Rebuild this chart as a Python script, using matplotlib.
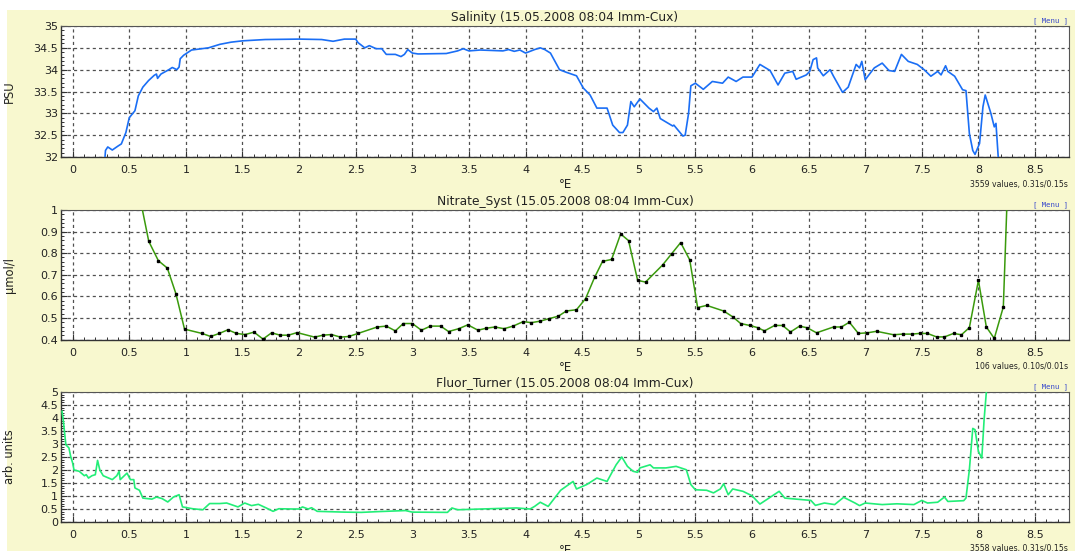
import matplotlib
matplotlib.use("Agg")
import matplotlib.pyplot as plt
from matplotlib.patches import Rectangle
from matplotlib.ticker import MultipleLocator, AutoMinorLocator, FuncFormatter

# ---------------- data ----------------
sal_lon = [0.28, 0.29, 0.31, 0.35, 0.40, 0.43, 0.47, 0.50, 0.55, 0.58, 0.62, 0.67, 0.72, 0.74, 0.75,
           0.78, 0.85, 0.88, 0.92, 0.94, 0.95, 0.98, 1.05, 1.20, 1.30, 1.40, 1.50, 1.70, 2.00, 2.20,
           2.30, 2.40, 2.50, 2.52, 2.58, 2.62, 2.68, 2.73, 2.77, 2.85, 2.90, 2.93, 2.96, 3.00, 3.05,
           3.30, 3.40, 3.45, 3.50, 3.60, 3.80, 3.85, 3.90, 3.95, 4.00, 4.08, 4.13, 4.17, 4.22, 4.30,
           4.36, 4.45, 4.51, 4.57, 4.63, 4.72, 4.77, 4.83, 4.86, 4.90, 4.93, 4.96, 5.01, 5.09, 5.13,
           5.16, 5.19, 5.30, 5.31, 5.39, 5.41, 5.44, 5.46, 5.50, 5.57, 5.65, 5.74, 5.79, 5.86, 5.92,
           6.00, 6.07, 6.16, 6.23, 6.29, 6.36, 6.39, 6.48, 6.51, 6.54, 6.57, 6.58, 6.63, 6.69, 6.72,
           6.80, 6.85, 6.92, 6.95, 6.97, 7.00, 7.08, 7.15, 7.21, 7.26, 7.32, 7.38, 7.46, 7.52, 7.58,
           7.64, 7.67, 7.71, 7.73, 7.79, 7.86, 7.89, 7.92, 7.95, 7.97, 8.01, 8.04, 8.06, 8.11, 8.14,
           8.155, 8.18]
sal_val = [31.80, 32.15, 32.23, 32.16, 32.25, 32.30, 32.56, 32.90, 33.06, 33.40, 33.60, 33.75, 33.87, 33.90, 33.80,
           33.90, 34.00, 34.05, 34.00, 34.06, 34.25, 34.33, 34.45, 34.50, 34.58, 34.63, 34.66, 34.69, 34.70, 34.69,
           34.65, 34.70, 34.70, 34.62, 34.50, 34.55, 34.48, 34.48, 34.35, 34.35, 34.30, 34.35, 34.46, 34.38, 34.36,
           34.37, 34.43, 34.48, 34.43, 34.45, 34.43, 34.46, 34.42, 34.45, 34.38, 34.46, 34.50, 34.46, 34.38, 34.00,
           33.94, 33.86, 33.58, 33.42, 33.12, 33.12, 32.73, 32.56, 32.56, 32.73, 33.27, 33.15, 33.33, 33.12, 33.04,
           33.12, 32.88, 32.71, 32.73, 32.48, 32.50, 33.00, 33.63, 33.69, 33.55, 33.73, 33.69, 33.83, 33.73, 33.83,
           33.83, 34.12, 33.98, 33.65, 33.92, 33.96, 33.78, 33.88, 33.96, 34.23, 34.27, 34.04, 33.86, 34.00, 33.85,
           33.48, 33.60, 34.12, 34.04, 34.19, 33.77, 34.04, 34.15, 33.98, 33.96, 34.35, 34.19, 34.12, 34.00, 33.85,
           33.96, 33.88, 34.09, 33.96, 33.85, 33.54, 33.52, 32.54, 32.15, 32.06, 32.31, 33.15, 33.42, 33.00, 32.69,
           32.77, 31.80]

nit_lon = [0.57, 0.672, 0.757, 0.836, 0.912, 0.988, 1.143, 1.219, 1.295, 1.371, 1.447, 1.523, 1.602, 1.681,
           1.757, 1.833, 1.906, 1.982, 2.137, 2.21, 2.286, 2.365, 2.44, 2.52, 2.69, 2.77, 2.85, 2.92, 3.00,
           3.08, 3.16, 3.25, 3.32, 3.41, 3.49, 3.58, 3.65, 3.73, 3.81, 3.89, 3.98, 4.05, 4.13, 4.21, 4.29,
           4.36, 4.45, 4.53, 4.61, 4.68, 4.76, 4.84, 4.91, 4.99, 5.06, 5.21, 5.29, 5.37, 5.45, 5.52, 5.60,
           5.75, 5.83, 5.90, 5.98, 6.05, 6.11, 6.20, 6.27, 6.34, 6.42, 6.49, 6.57, 6.72, 6.79, 6.86, 6.94,
           7.02, 7.10, 7.25, 7.33, 7.41, 7.48, 7.55, 7.63, 7.70, 7.78, 7.85, 7.92, 8.00, 8.07, 8.14, 8.22,
           8.29]
nit_val = [1.12, 0.855, 0.765, 0.731, 0.612, 0.448, 0.428, 0.414, 0.428, 0.445, 0.428, 0.423, 0.434, 0.402,
           0.431, 0.420, 0.420, 0.432, 0.411, 0.420, 0.423, 0.411, 0.414, 0.428, 0.458, 0.462, 0.440, 0.474, 0.474,
           0.443, 0.462, 0.462, 0.437, 0.450, 0.468, 0.443, 0.452, 0.458, 0.450, 0.462, 0.483, 0.478, 0.485, 0.497, 0.508,
           0.532, 0.538, 0.589, 0.688, 0.762, 0.771, 0.889, 0.858, 0.674, 0.666, 0.745, 0.797, 0.849, 0.769, 0.548, 0.558,
           0.532, 0.505, 0.474, 0.465, 0.455, 0.440, 0.465, 0.465, 0.435, 0.462, 0.454, 0.431, 0.458, 0.458, 0.480, 0.428,
           0.431, 0.438, 0.422, 0.425, 0.425, 0.428, 0.428, 0.412, 0.412, 0.428, 0.422, 0.455, 0.674, 0.458, 0.405, 0.551,
           1.60]

flu_lon = [-0.094, -0.08, -0.06, -0.033, -0.018, 0.0, 0.012, 0.058, 0.103, 0.12, 0.14, 0.17, 0.20, 0.22, 0.24,
           0.27, 0.35, 0.39, 0.41, 0.42, 0.48, 0.51, 0.54, 0.55, 0.59, 0.62, 0.70, 0.74, 0.79, 0.84, 0.89,
           0.94, 0.97, 1.06, 1.15, 1.21, 1.30, 1.36, 1.46, 1.52, 1.58, 1.64, 1.71, 1.77, 1.82, 1.94, 2.00,
           2.03, 2.08, 2.11, 2.16, 2.40, 2.55, 2.70, 2.94, 3.00, 3.31, 3.35, 3.40, 3.61, 3.92, 4.04, 4.08,
           4.13, 4.20, 4.31, 4.42, 4.45, 4.54, 4.63, 4.72, 4.80, 4.85, 4.90, 4.95, 4.99, 5.01, 5.10, 5.13,
           5.24, 5.33, 5.42, 5.46, 5.50, 5.60, 5.66, 5.72, 5.75, 5.79, 5.83, 5.92, 6.00, 6.07, 6.15, 6.24,
           6.29, 6.39, 6.52, 6.56, 6.64, 6.73, 6.81, 6.91, 6.95, 7.00, 7.15, 7.28, 7.43, 7.50, 7.55, 7.64,
           7.70, 7.73, 7.87, 7.89, 7.92, 7.95, 7.97, 8.00, 8.03, 8.05, 8.07, 8.09]
flu_val = [4.26, 3.80, 2.97, 2.85, 2.53, 2.27, 2.00, 1.95, 1.78, 1.82, 1.69, 1.78, 1.82, 2.37, 2.00,
           1.78, 1.63, 1.78, 1.95, 1.63, 1.88, 1.63, 1.63, 1.31, 1.22, 0.92, 0.88, 0.96, 0.90, 0.77, 0.96,
           1.05, 0.58, 0.51, 0.47, 0.71, 0.71, 0.73, 0.58, 0.73, 0.63, 0.68, 0.54, 0.41, 0.51, 0.50, 0.50,
           0.58, 0.50, 0.55, 0.41, 0.38, 0.37, 0.40, 0.44, 0.38, 0.37, 0.54, 0.47, 0.50, 0.54, 0.50, 0.60,
           0.76, 0.60, 1.22, 1.56, 1.27, 1.44, 1.69, 1.56, 2.20, 2.50, 2.14, 1.95, 1.91, 2.08, 2.20, 2.08,
           2.08, 2.14, 2.01, 1.44, 1.24, 1.22, 1.12, 1.27, 1.47, 1.05, 1.27, 1.18, 1.01, 0.69, 0.92, 1.18,
           0.92, 0.88, 0.83, 0.64, 0.73, 0.67, 0.95, 0.73, 0.63, 0.73, 0.67, 0.70, 0.67, 0.83, 0.73, 0.76,
           0.96, 0.79, 0.82, 0.92, 2.01, 3.60, 3.55, 2.71, 2.46, 3.93, 5.00, 6.00]

titles = ["Salinity (15.05.2008 08:04 Imm-Cux)",
          "Nitrate_Syst (15.05.2008 08:04 Imm-Cux)",
          "Fluor_Turner (15.05.2008 08:04 Imm-Cux)"]
ylabels = ["PSU", "\u00b5mol/l", "arb. units"]
value_notes = ["3559 values, 0.31s/0.15s", "106 values, 0.10s/0.01s", "3558 values, 0.31s/0.15s"]
xlabel = "\u00b0E"

# ---------------- figure ----------------
W, H = 1075, 551
fig = plt.figure(figsize=(W / 100, H / 100), dpi=100, facecolor="white")
bg = "#f8f8cf"
fig.patches.append(Rectangle((7 / W, 0), 1 - 7 / W, 1 - 10 / H, transform=fig.transFigure,
                             facecolor=bg, edgecolor="none", zorder=-10))

left_px, right_px = 61, 1069
panels = [(26, 157), (210, 339.5), (392, 522)]
ylims = [(32, 35), (0.4, 1.0), (0, 5)]
ymajor = [0.5, 0.1, 0.5]
colors = ["#1a6ef5", "#3a9a0c", "#22ee77"]
series = [(sal_lon, sal_val), (nit_lon, nit_val), (flu_lon, flu_val)]

def fmt(v, pos):
    s = ("%.2f" % v).rstrip("0").rstrip(".")
    return s

for i, (top, bot) in enumerate(panels):
    ax = fig.add_axes([left_px / W, 1 - bot / H, (right_px - left_px) / W, (bot - top) / H])
    ax.set_zorder(1)
    ax.set_facecolor("white")
    x, y = series[i]
    if i == 1:
        ax.plot(x, y, color=colors[i], lw=1.1, zorder=3)
        ax.plot(x, y, ls="none", marker="s", ms=2.0, color="black", zorder=4)
    else:
        ax.plot(x, y, color=colors[i], lw=1.2, zorder=3)
    ax.set_xlim(-0.103, 8.8)
    ax.set_ylim(*ylims[i])
    ax.xaxis.set_major_locator(MultipleLocator(0.5))
    ax.xaxis.set_minor_locator(AutoMinorLocator(5))
    ax.yaxis.set_major_locator(MultipleLocator(ymajor[i]))
    ax.yaxis.set_minor_locator(AutoMinorLocator(5))
    ax.xaxis.set_major_formatter(FuncFormatter(fmt))
    ax.yaxis.set_major_formatter(FuncFormatter(fmt))
    ax.grid(True, which="major", color="#505050", lw=0.9, ls=(0, (2.5, 2.5)))
    ax.tick_params(axis="both", which="major", direction="in", length=4, width=0.8,
                   labelsize=8, colors="#333333", labelcolor="#222222")
    ax.tick_params(axis="both", which="minor", direction="in", length=2.5, width=0.7, colors="#333333")
    ax.tick_params(axis="x", which="major", pad=6)
    ax.tick_params(axis="y", which="major", pad=2)
    for s in ["left", "bottom"]:
        ax.spines[s].set_color("#333333")
        ax.spines[s].set_linewidth(1.0)
    for s in ["top", "right"]:
        ax.spines[s].set_color("#555555")
        ax.spines[s].set_linewidth(0.8)
    ax.set_ylabel(ylabels[i], fontsize=8.3, color="#222222")
    ax.yaxis.set_label_coords((16 - left_px) / (right_px - left_px), 0.5)

    # title
    fig.text(565 / W, 1 - (top - 9) / H, titles[i], ha="center", va="center",
             fontsize=8.8, color="#222222")
    # menu
    fig.text(1068 / W, 1 - (top - 5.5) / H, "[ Menu ]", ha="right", va="center",
             fontsize=5.2, family="DejaVu Sans Mono", color="#3344cc")
    # xlabel
    fig.text(565 / W, 1 - (bot + 28) / H, xlabel, ha="center", va="center",
             fontsize=8.5, color="#222222")
    # values note
    fig.text(1068 / W, 1 - (bot + 27) / H, value_notes[i], ha="right", va="center",
             fontsize=5.6, color="#222222")

fig.savefig("out.png", dpi=100, facecolor=fig.get_facecolor())
